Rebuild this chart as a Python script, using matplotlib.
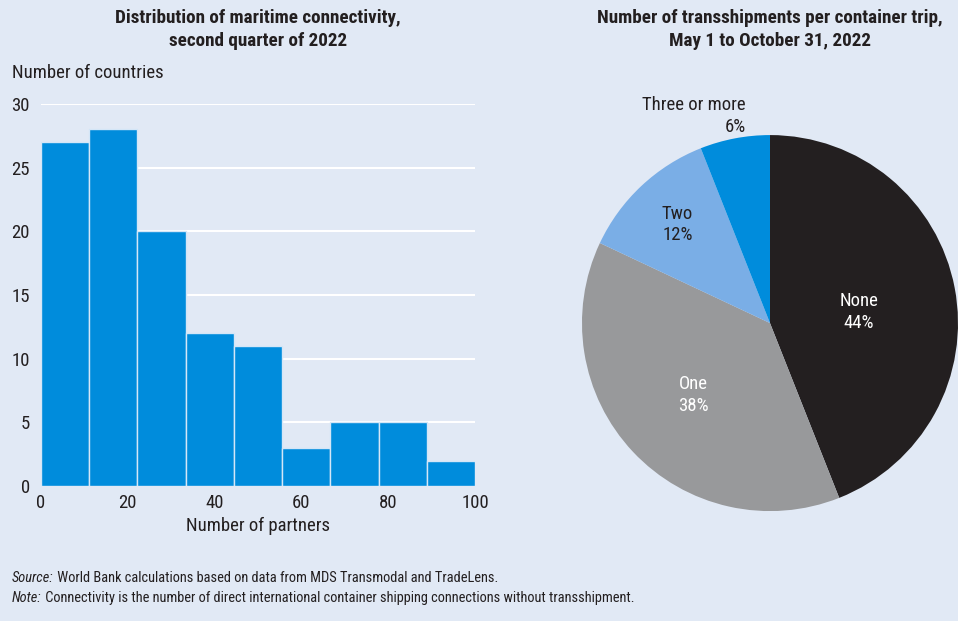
import numpy as np
import matplotlib.pyplot as plt

plt.rcParams['font.family'] = ['Roboto Condensed', 'DejaVu Sans']

# histogram data
bin_edges = np.linspace(0, 100, 10)
counts = [27, 28, 20, 12, 11, 3, 5, 5, 2]

# pie data
pie_labels = ['None', 'One', 'Two', 'Three or more']
pie_shares = [44, 38, 12, 6]
pie_colors = ['#231F20', '#98999B', '#7AAEE6', '#008CDC']

bg = '#E1E9F5'
blue = '#008CDC'
txt = '#231F20'

fig = plt.figure(figsize=(9.58, 6.21), dpi=100, facecolor=bg)

# left: histogram
ax = fig.add_axes([0.0428, 0.2174, 0.453, 0.6151])
ax.set_facecolor(bg)
ax.bar(bin_edges[:-1], counts, width=np.diff(bin_edges), align='edge',
       color=blue, edgecolor='#D4E6F7', linewidth=1, zorder=3)
ax.set_xlim(0, 100)
ax.set_ylim(0, 30)
ax.set_yticks(range(0, 31, 5))
ax.set_xticks(range(0, 101, 20))
ax.grid(axis='y', color='white', linewidth=1.5, zorder=0)
ax.set_axisbelow(True)
for s in ax.spines.values():
    s.set_visible(False)
ax.tick_params(length=0, labelsize=13.5, colors=txt, pad=6)
ax.tick_params(axis='y', pad=8)
ax.set_xlabel('Number of partners', fontsize=13.5, color=txt, labelpad=3)
ax.text(-0.067, 1.081, 'Number of countries', transform=ax.transAxes,
        fontsize=13.5, color=txt, ha='left', va='center')
fig.text(0.269, 0.952, 'Distribution of maritime connectivity,\nsecond quarter of 2022',
         ha='center', va='center', fontsize=13.8, fontweight='bold', color=txt,
         linespacing=1.33)

# right: pie
pax = fig.add_axes([0.6075, 0.177, 0.3925, 0.6055])
pax.set_facecolor(bg)
wedges, _ = pax.pie(pie_shares, colors=pie_colors, startangle=90,
                    counterclock=False, radius=1,
                    wedgeprops=dict(linewidth=0))
pax.set_aspect('equal')
pax.set_xlim(-1, 1)
pax.set_ylim(-1, 1)
pax.axis('off')

label_r = [0.48, 0.56, 0.72, 1.12]
label_col = ['white', 'white', txt, txt]
for w, lab, share, r, c in zip(wedges, pie_labels, pie_shares, label_r, label_col):
    ang = np.deg2rad((w.theta1 + w.theta2) / 2)
    x, y = r * np.cos(ang), r * np.sin(ang)
    if lab == 'Three or more':
        pax.text(x + 0.08, y, f'{lab}\n{share}%', ha='right', va='center',
                 fontsize=13.5, color=c, multialignment='right', linespacing=1.3)
    elif lab == 'None':
        pax.text(x, y - 0.03, f'{lab}\n{share}%', ha='center', va='center',
                 fontsize=13.5, color=c, linespacing=1.25)
    else:
        pax.text(x, y, f'{lab}\n{share}%', ha='center', va='center',
                 fontsize=13.5, color=c, linespacing=1.25)

fig.text(0.804, 0.952, 'Number of transshipments per container trip,\nMay 1 to October 31, 2022',
         ha='center', va='center', fontsize=13.8, fontweight='bold', color=txt,
         linespacing=1.33)

# footnotes
s1 = fig.text(0.0125, 0.069, 'Source:', fontsize=10.4, style='italic', color=txt, va='center')
ax.annotate(' World Bank calculations based on data from MDS Transmodal and TradeLens.',
            xy=(1, 0.5), xycoords=s1, va='center', ha='left', fontsize=10.4, color=txt,
            annotation_clip=False)
s2 = fig.text(0.0125, 0.037, 'Note:', fontsize=10.4, style='italic', color=txt, va='center')
ax.annotate(' Connectivity is the number of direct international container shipping connections without transshipment.',
            xy=(1, 0.5), xycoords=s2, va='center', ha='left', fontsize=10.4, color=txt,
            annotation_clip=False)

fig.savefig('out.png', dpi=100, facecolor=bg)
